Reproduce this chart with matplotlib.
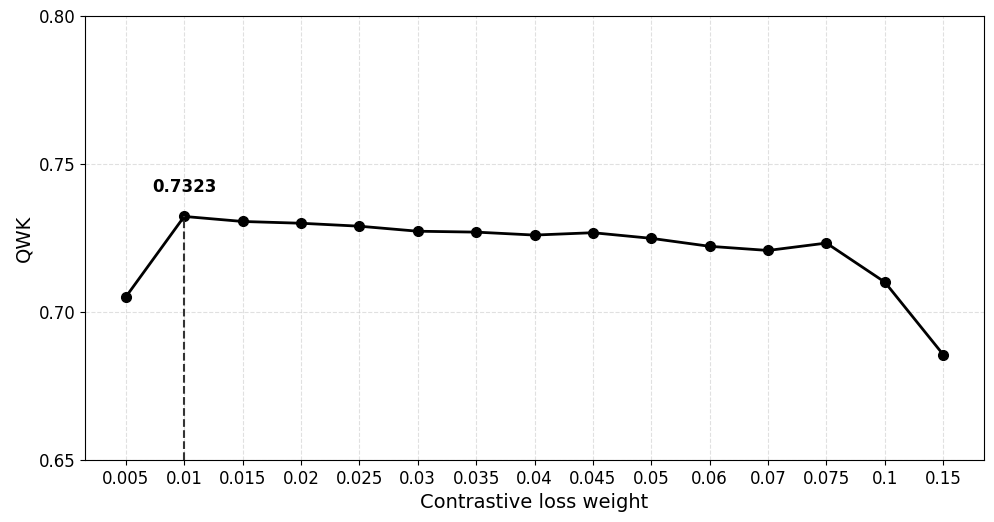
import matplotlib
matplotlib.use("Agg")
import matplotlib.pyplot as plt

weights = ["0.005", "0.01", "0.015", "0.02", "0.025", "0.03", "0.035", "0.04",
           "0.045", "0.05", "0.06", "0.07", "0.075", "0.1", "0.15"]
qwk = [0.7051, 0.7323, 0.7306, 0.7300, 0.7290, 0.7273, 0.7270, 0.7260,
       0.7268, 0.7249, 0.7222, 0.7208, 0.7233, 0.7101, 0.6856]
best_idx = 1

fig, ax = plt.subplots(figsize=(9.95, 5.22), dpi=100)
fig.subplots_adjust(left=0.0854, right=0.989, top=0.969, bottom=0.119)

x = list(range(len(weights)))
ax.plot(x, qwk, color="black", linewidth=2, marker="o", markersize=7)
ax.set_ylim(0.65, 0.80)
ax.set_yticks([0.65, 0.70, 0.75, 0.80])
ax.set_xticks(x)
ax.set_xticklabels(weights)
ax.tick_params(labelsize=12)
ax.grid(True, linestyle="--", color="#cccccc", alpha=0.6)

ax.vlines(best_idx, 0.65, qwk[best_idx], colors="#333333", linestyles="--", linewidth=1.5)
ax.annotate("{:.4f}".format(qwk[best_idx]), (best_idx, qwk[best_idx]),
            xytext=(0, 21), textcoords="offset points", ha="center", va="center",
            fontsize=12, fontweight="bold")

ax.set_xlabel("Contrastive loss weight", fontsize=14)
ax.set_ylabel("QWK", fontsize=14)

fig.savefig("out.png", dpi=100)
